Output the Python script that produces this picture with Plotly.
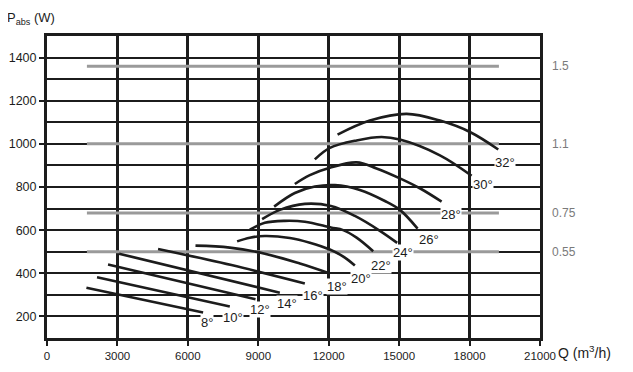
import plotly.graph_objects as go

# ---------------- data ----------------
q_ticks = [0, 3000, 6000, 9000, 12000, 15000, 18000, 21000]
p_ticks = [200, 400, 600, 800, 1000, 1200, 1400]

angle_labels = ["8°", "10°", "12°", "14°", "16°", "18°", "20°", "22°", "24°", "26°", "28°", "30°", "32°"]

q_08 = [1679, 6649]
p_08 = [333, 218]
q_10 = [2131, 7787]
p_10 = [382, 246]
q_12 = [2600, 8882]
p_12 = [441, 280]
q_14 = [3069, 9918]
p_14 = [491, 310]
q_16 = [4731, 7859, 10983]
p_16 = [513, 438, 353]
q_18 = [6325, 7787, 9278, 10770, 12049]
p_18 = [528, 519, 491, 445, 399]
q_20 = [8098, 8639, 9278, 10344, 11196, 12049, 12688, 13114]
p_20 = [548, 565, 573, 564, 542, 510, 473, 436]
q_22 = [8639, 9278, 10131, 10983, 12092, 12615, 13187, 13894]
p_22 = [602, 634, 643, 639, 612, 600, 565, 502]
q_24 = [9163, 9918, 10983, 12092, 13114, 14180, 14917]
p_24 = [651, 694, 722, 712, 666, 597, 541]
q_26 = [9675, 10557, 11409, 12262, 13327, 14393, 15032, 15786]
p_26 = [709, 772, 802, 809, 786, 735, 694, 607]
q_28 = [10557, 11196, 12049, 13187, 14037, 15032, 15900, 16809]
p_28 = [814, 855, 889, 914, 886, 840, 793, 732]
q_30 = [11409, 12049, 13187, 14252, 15032, 16737, 18088]
p_30 = [928, 981, 1016, 1032, 1020, 947, 852]
q_32 = [12377, 13753, 15318, 16737, 18015, 19222]
p_32 = [1043, 1108, 1139, 1108, 1055, 974]

# motor power lines (kW) and absorbed-power level
motor_labels = ["1.5", "1.1", "0.75", "0.55"]
motor_p = [1360, 1000, 680, 500]
motor_q_start = 1700
motor_q_end = 19250

# angle label anchor positions
label_q = [6794, 7902, 9065, 10229, 11337, 12334, 13357, 14210, 15147, 16281, 17193, 18557, 19507]
label_p = [172, 195, 234, 261, 298, 338, 375, 436, 497, 556, 671, 812, 912]

curves = [(q_08, p_08), (q_10, p_10), (q_12, p_12), (q_14, p_14), (q_16, p_16),
          (q_18, p_18), (q_20, p_20), (q_22, p_22), (q_24, p_24), (q_26, p_26),
          (q_28, p_28), (q_30, p_30), (q_32, p_32)]

# ---------------- figure ----------------
INK = "#1c1c1c"
GRAY = "#9a9a9a"
FONT = "Liberation Sans, Arial, Helvetica, sans-serif"

fig = go.Figure()

for mp in motor_p:
    fig.add_trace(go.Scatter(x=[motor_q_start, motor_q_end], y=[mp, mp], mode="lines",
                             line=dict(color=GRAY, width=3), hoverinfo="skip", showlegend=False))

for (qs, ps) in curves:
    fig.add_trace(go.Scatter(x=qs, y=ps, mode="lines",
                             line=dict(color=INK, width=2.6, shape="spline", smoothing=1.0),
                             hoverinfo="skip", showlegend=False))

for txt, lq, lp in zip(angle_labels, label_q, label_p):
    fig.add_annotation(x=lq, y=lp, xref="x", yref="y", text=txt, showarrow=False,
                       font=dict(family=FONT, size=13, color=INK),
                       bgcolor="white", borderpad=0)

for txt, mp in zip(motor_labels, motor_p):
    fig.add_annotation(x=1.02, y=mp, xref="paper", yref="y", text=txt, showarrow=False,
                       xanchor="left", font=dict(family=FONT, size=12, color="#7a7a7a"))

fig.add_annotation(x=-0.086, y=1.058, xref="paper", yref="paper", text="P<sub>abs</sub> (W)",
                   showarrow=False, xanchor="left", yanchor="middle",
                   font=dict(family=FONT, size=13, color=INK))
fig.add_annotation(x=1.032, y=-0.045, xref="paper", yref="paper", text="Q (m<sup>3</sup>/h)",
                   showarrow=False, xanchor="left", yanchor="middle",
                   font=dict(family=FONT, size=14, color=INK))

# the page body adds an 8px offset, so the figure is 8px smaller and margins compensate
fig.update_layout(
    width=625, height=364,
    margin=dict(l=39, r=93, t=28, b=34),
    paper_bgcolor="white", plot_bgcolor="white",
    showlegend=False,
    xaxis=dict(range=[0, 21000], tickvals=q_ticks, ticktext=[str(v) for v in q_ticks],
               automargin=False,
               showgrid=True, gridcolor=INK, gridwidth=2.6, zeroline=False,
               showline=True, linecolor=INK, linewidth=3, mirror=True,
               ticks="outside", ticklen=5, tickwidth=2, tickcolor=INK,
               tickfont=dict(family=FONT, size=11.5, color=INK)),
    yaxis=dict(range=[100, 1500], tickvals=p_ticks, ticktext=[str(v) for v in p_ticks],
               automargin=False,
               showgrid=True, gridcolor=INK, gridwidth=2.4, zeroline=False,
               showline=True, linecolor=INK, linewidth=3, mirror=True,
               ticks="outside", ticklen=5, tickwidth=2, tickcolor=INK,
               tickfont=dict(family=FONT, size=12.5, color=INK),
               minor=dict(dtick=100, tick0=100, showgrid=True, gridcolor=INK, gridwidth=2.4, ticks="")),
)

fig.write_html("out.html")
